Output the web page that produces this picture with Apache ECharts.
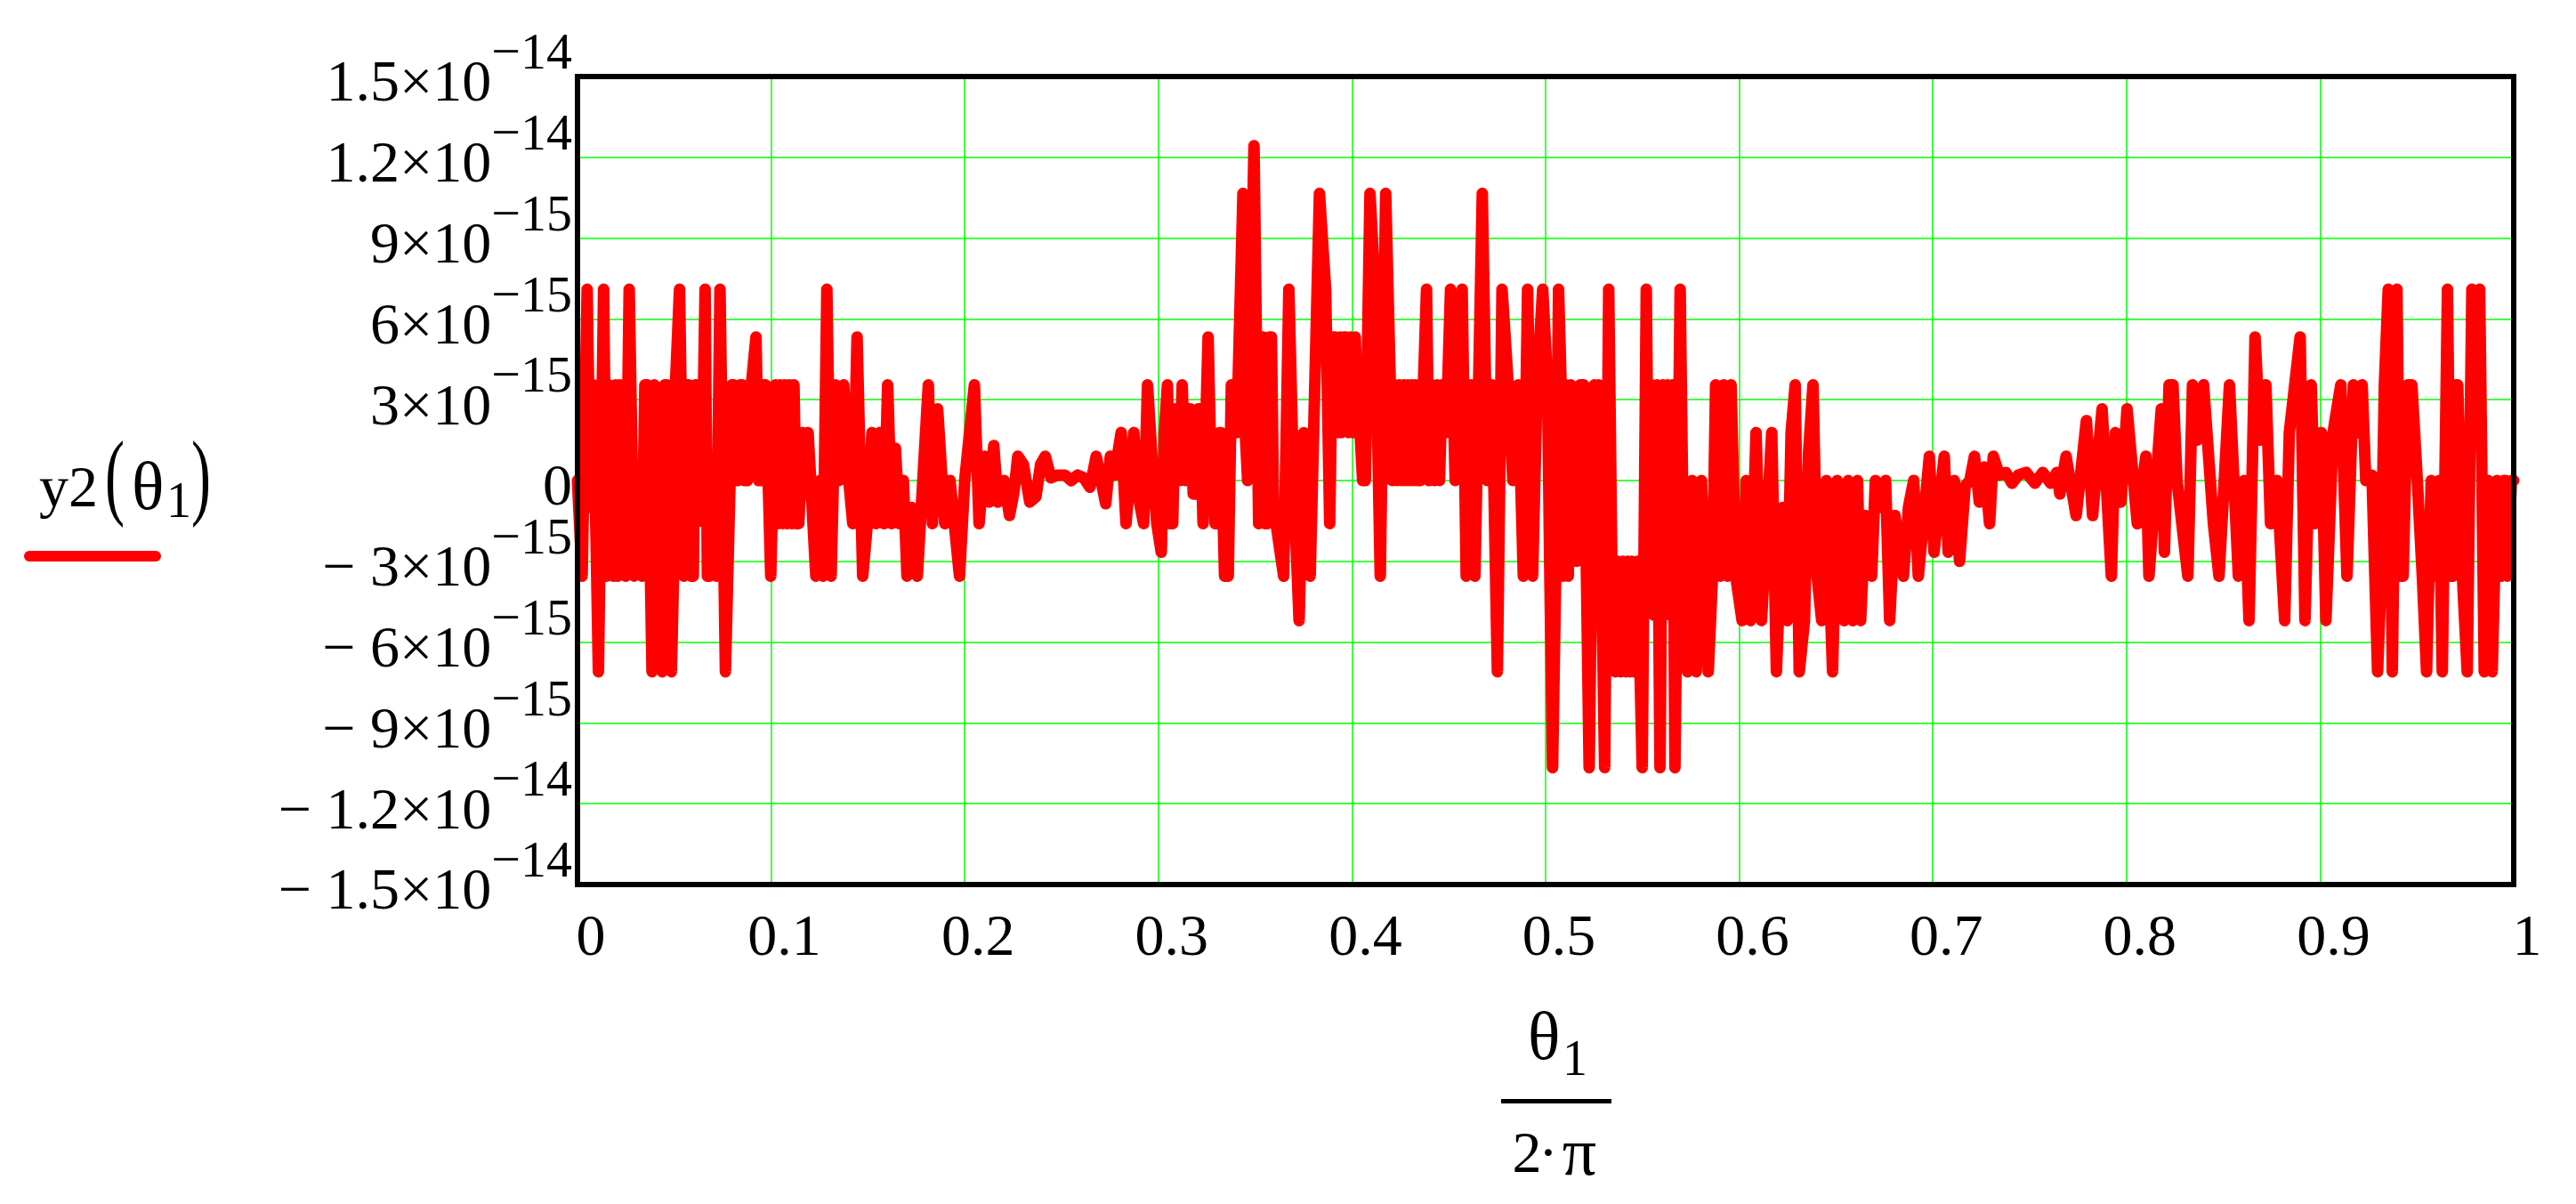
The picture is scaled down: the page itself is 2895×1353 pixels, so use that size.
<!DOCTYPE html>
<html>
<head>
<meta charset="utf-8">
<script src="https://cdn.jsdelivr.net/npm/echarts@6/dist/echarts.min.js"></script>
<style>
html,body{margin:0;padding:0;background:#fff;}
#chart{width:2895px;height:1353px;}
</style>
</head>
<body>
<div id="chart"></div>
<script>
// x tick labels (θ1 / 2π)
const xTickLabels = ['0','0.1','0.2','0.3','0.4','0.5','0.6','0.7','0.8','0.9','1'];
// y ticks, in units of 1e-15
const yTickValues = [-15,-12,-9,-6,-3,0,3,6,9,12,15];
const yTickMain = ['\u2212 1.5\u00d710','\u2212 1.2\u00d710','\u2212 9\u00d710','\u2212 6\u00d710','\u2212 3\u00d710','0','3\u00d710','6\u00d710','9\u00d710','1.2\u00d710','1.5\u00d710'];
const yTickExp  = ['\u221214','\u221214','\u221215','\u221215','\u221215','','\u221215','\u221215','\u221215','\u221214','\u221214'];

// [θ1/2π, y2(θ1) in units of 1e-15]
const quarter1 = [[0,0],[0.0024,-3.55],[0.0050,7.1],[0.0066,-1.0],[0.0082,3.55],[0.0108,-7.1],[0.0135,7.1],[0.0150,-3.55],[0.0163,3.55],[0.0185,-3.55],[0.0197,3.55],[0.0208,-3.55],[0.0218,3.55],[0.0227,-1.0],[0.0248,-3.55],[0.0267,7.1],[0.0292,-3.55],[0.0312,0],[0.0333,-3.55],[0.0348,3.55],[0.0361,3.55],[0.0385,-7.1],[0.0397,3.55],[0.0409,0],[0.0423,-3.55],[0.0437,-7.1],[0.0450,3.55],[0.0462,3.55],[0.0473,-3.55],[0.0485,-7.1],[0.0496,-3.55],[0.0506,3.55],[0.0527,7.1],[0.0549,-3.55],[0.0562,3.55],[0.0575,3.55],[0.0587,-3.55],[0.0598,-3.55],[0.0609,3.55],[0.0619,3.55],[0.0640,-1.5],[0.0659,7.1],[0.0671,-3.55],[0.0683,-3.55],[0.0703,-1.2],[0.0718,-3.55],[0.0736,7.1],[0.0764,-7.1],[0.0788,0],[0.0797,3.55],[0.0807,3.55],[0.0817,0],[0.0828,0],[0.0840,3.55],[0.0852,3.55],[0.0864,0],[0.0877,0],[0.0888,3.55],[0.0898,3.55],[0.0922,5.33],[0.0935,0],[0.0946,0],[0.0960,3.55],[0.0972,3.55],[0.0998,-3.55],[0.1022,3.55],[0.1034,-1.6],[0.1046,3.55],[0.1058,-1.6],[0.1070,3.55],[0.1082,-1.6],[0.1094,3.55],[0.1106,-1.6],[0.1118,3.55],[0.1130,-1.6],[0.1143,-1.6],[0.1164,1.78],[0.1180,-0.5],[0.1191,1.78],[0.1231,-3.55],[0.1252,0],[0.1268,-3.55],[0.1288,7.1],[0.1310,-3.55],[0.1333,3.55],[0.1352,0],[0.1375,3.55],[0.1401,0],[0.1422,-1.6],[0.1444,5.33],[0.1473,-3.55],[0.1497,-1.6],[0.1521,1.78],[0.1542,-1.6],[0.1562,1.78],[0.1583,-1.6],[0.1602,3.55],[0.1623,-1.6],[0.1642,1.2],[0.1662,-1.6],[0.1683,0],[0.1702,-3.55],[0.1726,-1.0],[0.1755,-3.55],[0.1812,3.55],[0.1833,-1.6],[0.1860,2.66],[0.1897,-1.6],[0.1924,0],[0.1973,-3.55],[0.2000,0],[0.2050,3.55],[0.2074,-1.6],[0.2102,0.9],[0.2126,-0.8],[0.2150,1.3],[0.2171,-0.8],[0.2203,0],[0.2231,-1.3],[0.2255,-0.4],[0.2274,0.9],[0.2303,0.6],[0.2336,-0.8],[0.2368,-0.6],[0.2392,0.6],[0.2416,0.9],[0.2445,0.1],[0.2477,0.2]];
const quarter2 = [[0.2518,0.2],[0.2550,0],[0.2583,0.2],[0.2615,0.1],[0.2647,-0.25],[0.2679,0.9],[0.2728,-0.86],[0.2752,0.9],[0.2773,0.2],[0.2808,1.78],[0.2833,-1.6],[0.2873,1.78],[0.2897,-0.6],[0.2924,-1.6],[0.2944,3.55],[0.2970,0.5],[0.2992,-1.6],[0.3015,-2.66],[0.3031,1.78],[0.3047,3.55],[0.3060,-1.6],[0.3074,-1.6],[0.3087,2.66],[0.3099,2.66],[0.3111,0],[0.3123,3.55],[0.3139,0],[0.3152,2.66],[0.3166,2.66],[0.3180,-0.5],[0.3195,-0.5],[0.3205,2.66],[0.3215,2.66],[0.3231,-1.6],[0.3257,5.33],[0.3270,1.0],[0.3284,1.0],[0.3293,-1.6],[0.3303,-1.6],[0.3314,1.78],[0.3324,1.78],[0.3342,-3.55],[0.3361,-3.55],[0.3377,3.55],[0.3391,1.78],[0.3405,1.78],[0.3437,10.66],[0.3449,1.78],[0.3461,0],[0.3494,12.43],[0.3518,-1.6],[0.3530,5.33],[0.3542,5.33],[0.3552,-1.6],[0.3563,-1.6],[0.3574,5.33],[0.3584,5.33],[0.3596,-1.6],[0.3608,-1.6],[0.3647,-3.55],[0.3674,7.1],[0.3698,0],[0.3727,-5.2],[0.3751,1.78],[0.3784,-3.55],[0.3832,10.66],[0.3864,7.1],[0.3885,-1.6],[0.3899,5.33],[0.3913,5.33],[0.3929,1.78],[0.3937,5.33],[0.3945,1.78],[0.3957,5.33],[0.3969,5.33],[0.3981,1.78],[0.3993,5.33],[0.4005,1.78],[0.4017,5.33],[0.4030,1.78],[0.4042,1.78],[0.4055,0],[0.4069,0],[0.4093,10.66],[0.4119,7.1],[0.4146,-3.55],[0.4174,10.66],[0.4198,3.55],[0.4208,0],[0.4219,3.55],[0.4231,0],[0.4243,3.55],[0.4255,0],[0.4267,3.55],[0.4278,0],[0.4288,3.55],[0.4298,0],[0.4308,3.55],[0.4318,0],[0.4327,3.55],[0.4340,0],[0.4353,0],[0.4385,7.1],[0.4398,0],[0.4412,3.55],[0.4426,0],[0.4440,3.55],[0.4452,0],[0.4465,3.55],[0.4487,1.78],[0.4509,7.1],[0.4533,0],[0.4569,7.1],[0.4590,-3.55],[0.4614,3.55],[0.4635,-3.55],[0.4673,10.66],[0.4698,0],[0.4723,3.55],[0.4751,-7.1],[0.4775,7.1],[0.4807,3.55],[0.4831,0],[0.4858,3.55],[0.4885,-3.55],[0.4907,7.1],[0.4933,-3.55],[0.4956,3.55],[0.4985,7.1]];
const quarter3 = [[0.5010,3.55],[0.5022,-3.55],[0.5036,-10.66],[0.5052,-3.55],[0.5067,7.1],[0.5080,3.55],[0.5091,-3.55],[0.5104,3.55],[0.5117,-3.55],[0.5130,3.55],[0.5142,-1.6],[0.5160,-3.0],[0.5178,3.55],[0.5197,3.55],[0.5210,-3.0],[0.5225,-10.66],[0.5238,-3.0],[0.5252,3.55],[0.5262,-3.0],[0.5273,3.55],[0.5288,-3.0],[0.5305,-10.66],[0.5326,7.1],[0.5342,-3.0],[0.5359,-7.1],[0.5372,-3.0],[0.5386,-7.1],[0.5399,-3.0],[0.5413,-7.1],[0.5424,-3.0],[0.5434,-7.1],[0.5445,-3.0],[0.5455,-7.1],[0.5475,-3.0],[0.5499,-10.66],[0.5520,7.1],[0.5534,-3.55],[0.5547,3.55],[0.5560,-5.0],[0.5575,3.55],[0.5591,-10.66],[0.5605,3.55],[0.5616,-3.0],[0.5630,3.55],[0.5645,-5.0],[0.5656,3.55],[0.5668,-10.66],[0.5695,7.1],[0.5712,-3.0],[0.5733,-7.1],[0.5757,0],[0.5778,-7.1],[0.5805,0],[0.5822,-3.55],[0.5840,-7.1],[0.5862,-3.55],[0.5878,3.55],[0.5902,-3.55],[0.5920,3.55],[0.5940,-3.55],[0.5958,3.55],[0.5982,-3.55],[0.6015,-5.2],[0.6036,0],[0.6058,-5.2],[0.6087,1.78],[0.6115,-5.2],[0.6168,1.78],[0.6192,-7.1],[0.6224,-1.0],[0.6248,-5.2],[0.6268,1.78],[0.6289,3.55],[0.6310,-7.1],[0.6337,-5.2],[0.6358,1.0],[0.6381,3.55],[0.6402,-3.55],[0.6426,-5.2],[0.6450,0],[0.6482,-7.1],[0.6506,0],[0.6542,-5.2],[0.6563,0],[0.6587,-5.2],[0.6611,0],[0.6627,-5.2],[0.6651,-1.3],[0.6684,-3.55],[0.6703,0],[0.6732,-1.0],[0.6756,0],[0.6777,-5.2],[0.6804,-1.3],[0.6848,-3.55],[0.6874,-1.0],[0.6901,0],[0.6925,-3.55],[0.6958,-1.0],[0.6982,0.9],[0.7006,-2.66],[0.7059,0.9],[0.7079,-2.66],[0.7111,0],[0.7138,-3.0],[0.7167,-0.2],[0.7191,0],[0.7215,0.9],[0.7240,-0.8],[0.7267,0.5],[0.7293,-1.6],[0.7312,0.9],[0.7344,0.2],[0.7377,0.3],[0.7409,-0.1],[0.7441,0.2],[0.7482,0.3]];
const quarter4 = [[0.7527,-0.1],[0.7568,0.3],[0.7608,-0.1],[0.7640,0.3],[0.7656,-0.5],[0.7688,0.9],[0.7740,-1.3],[0.7793,2.22],[0.7825,-1.3],[0.7874,2.66],[0.7922,-3.55],[0.7943,1.78],[0.7971,-0.8],[0.8003,2.66],[0.8056,-1.6],[0.8100,0.9],[0.8116,-3.55],[0.8180,2.66],[0.8196,-2.66],[0.8220,3.55],[0.8240,3.55],[0.8261,0],[0.8317,-3.55],[0.8341,3.55],[0.8365,1.5],[0.8398,3.55],[0.8449,-1.6],[0.8478,-3.55],[0.8532,3.55],[0.8578,-3.55],[0.8607,0],[0.8633,-5.2],[0.8664,5.33],[0.8691,1.5],[0.8720,3.55],[0.8744,-1.6],[0.8777,0],[0.8817,-5.2],[0.8841,1.78],[0.8897,5.33],[0.8922,-5.2],[0.8954,3.55],[0.8975,-1.6],[0.9007,1.78],[0.9030,-5.2],[0.9067,1.78],[0.9107,3.55],[0.9139,-3.55],[0.9172,3.55],[0.9196,1.78],[0.9217,3.55],[0.9236,0],[0.9268,0.2],[0.9297,-7.1],[0.9315,-3.55],[0.9332,3.55],[0.9352,7.1],[0.9373,-7.1],[0.9397,7.1],[0.9413,-3.55],[0.9429,-3.55],[0.9452,3.55],[0.9474,3.55],[0.9502,0],[0.9528,-3.55],[0.9550,-7.1],[0.9574,0],[0.9600,-3.55],[0.9615,0],[0.9631,-7.1],[0.9658,7.1],[0.9673,-3.55],[0.9687,-3.55],[0.9700,3.55],[0.9711,3.55],[0.9735,-3.55],[0.9760,-7.1],[0.9784,7.1],[0.9803,3.55],[0.9824,7.1],[0.9848,-7.1],[0.9868,0],[0.9889,-7.1],[0.9913,0],[0.9925,-3.55],[0.9937,-3.55],[0.9948,0],[0.9958,0],[0.9968,-3.55],[0.9977,-3.55],[0.9988,0],[1.0,0]];

const seriesName = 'y2(\u03b81)';
const FONT = '"Liberation Serif", "Times New Roman", serif';

const chart = echarts.init(document.getElementById('chart'), null, {renderer: 'canvas'});
const gridRect = {left: 649, top: 86, width: 2176, height: 908};
const frameAxisLine = {show: true, onZero: false, lineStyle: {color: '#000', width: 6, cap: 'square'}};

function tickIndex(v) { return yTickValues.indexOf(Math.round(v)); }

function txt(text, x, y, size, align, extra) {
  return Object.assign({
    type: 'text', x: x, y: y, z: 20,
    style: {text: text, font: size + 'px ' + FONT, fill: '#000',
            textAlign: align, align: align, textVerticalAlign: 'middle', verticalAlign: 'middle'}
  }, extra || {});
}

const option = {
  animation: false,
  backgroundColor: '#fff',
  grid: [Object.assign({}, gridRect), Object.assign({}, gridRect)],
  xAxis: [
    {
      type: 'value', gridIndex: 0, min: 0, max: 1, interval: 0.1,
      axisLine: {show: false}, axisTick: {show: false},
      splitLine: {show: true, lineStyle: {color: '#00ff00', width: 1.5}},
      axisLabel: {
        color: '#000', fontFamily: FONT, fontSize: 66, margin: 29, padding: [0, 0, 0, 30],
        showMinLabel: true, showMaxLabel: true,
        formatter: function (v) { return xTickLabels[Math.round(v * 10)]; }
      }
    },
    {type: 'value', gridIndex: 1, position: 'bottom', min: 0, max: 1, z: 10,
     axisLine: frameAxisLine, axisTick: {show: false}, axisLabel: {show: false}, splitLine: {show: false}},
    {type: 'value', gridIndex: 1, position: 'top', min: 0, max: 1, z: 10,
     axisLine: frameAxisLine, axisTick: {show: false}, axisLabel: {show: false}, splitLine: {show: false}}
  ],
  yAxis: [
    {
      // mantissa part of the tick labels ("3×10"), sitting just below each grid line
      type: 'value', gridIndex: 0, min: -15, max: 15, interval: 3,
      axisLine: {show: false}, axisTick: {show: false},
      splitLine: {show: true, lineStyle: {color: '#00ff00', width: 1.5}},
      axisLabel: {
        margin: 6, showMinLabel: true, showMaxLabel: true,
        verticalAlign: 'top', lineHeight: 20,
        formatter: function (v) {
          const i = tickIndex(v);
          if (i < 0) return '';
          if (!yTickExp[i]) return '{m|' + yTickMain[i] + '}';
          return '{m|' + yTickMain[i] + '}{h|' + yTickExp[i] + '}';
        },
        rich: {
          m: {fontFamily: FONT, fontSize: 66, color: '#000', lineHeight: 20},
          h: {fontFamily: FONT, fontSize: 58, color: 'rgba(0,0,0,0)', lineHeight: 20}
        }
      }
    },
    {
      // frame (left) + exponent part of the tick labels ("−15"), raised above each grid line
      type: 'value', gridIndex: 1, position: 'left', min: -15, max: 15, interval: 3, z: 10,
      axisLine: frameAxisLine, axisTick: {show: false}, splitLine: {show: false},
      axisLabel: {
        margin: 6, showMinLabel: true, showMaxLabel: true,
        color: '#000', fontFamily: FONT, fontSize: 58,
        verticalAlign: 'bottom', lineHeight: 48,
        formatter: function (v) { const i = tickIndex(v); return i < 0 ? '' : yTickExp[i]; }
      }
    },
    {type: 'value', gridIndex: 1, position: 'right', min: 0, max: 1, z: 10,
     axisLine: frameAxisLine, axisTick: {show: false}, axisLabel: {show: false}, splitLine: {show: false}}
  ],
  series: [
    {
      name: seriesName,
      type: 'line',
      xAxisIndex: 0, yAxisIndex: 0,
      data: quarter1.concat(quarter2, quarter3, quarter4),
      showSymbol: false, symbol: 'none',
      lineStyle: {color: '#ff0000', width: 13, cap: 'round', join: 'round'},
      z: 2
    }
  ],
  graphic: [
    // x-axis title: θ1 / (2·π)
    txt('\u03b8', 1717, 1170, 76, 'left'),
    txt('1', 1770, 1193, 56, 'center'),
    {type: 'rect', z: 20, shape: {x: 1687, y: 1235, width: 124, height: 5}, style: {fill: '#000'}},
    txt('2', 1716, 1300, 66, 'center'),
    txt('\u00b7', 1740, 1300, 66, 'center'),
    txt('\u03c0', 1775, 1300, 76, 'center'),
    // y-axis title / legend: y2(θ1)
    txt('y2', 44, 552, 66, 'left'),
    txt('(', 129, 541, 66, 'center', {scaleY: 1.65}),
    txt('\u03b8', 148, 552, 76, 'left'),
    txt('1', 201, 566, 56, 'center'),
    txt(')', 226, 541, 66, 'center', {scaleY: 1.65}),
    {type: 'line', z: 20, shape: {x1: 33, y1: 625, x2: 175, y2: 625}, style: {stroke: '#ff0000', lineWidth: 12, lineCap: 'round'}}
  ]
};
chart.setOption(option);
</script>
</body>
</html>
